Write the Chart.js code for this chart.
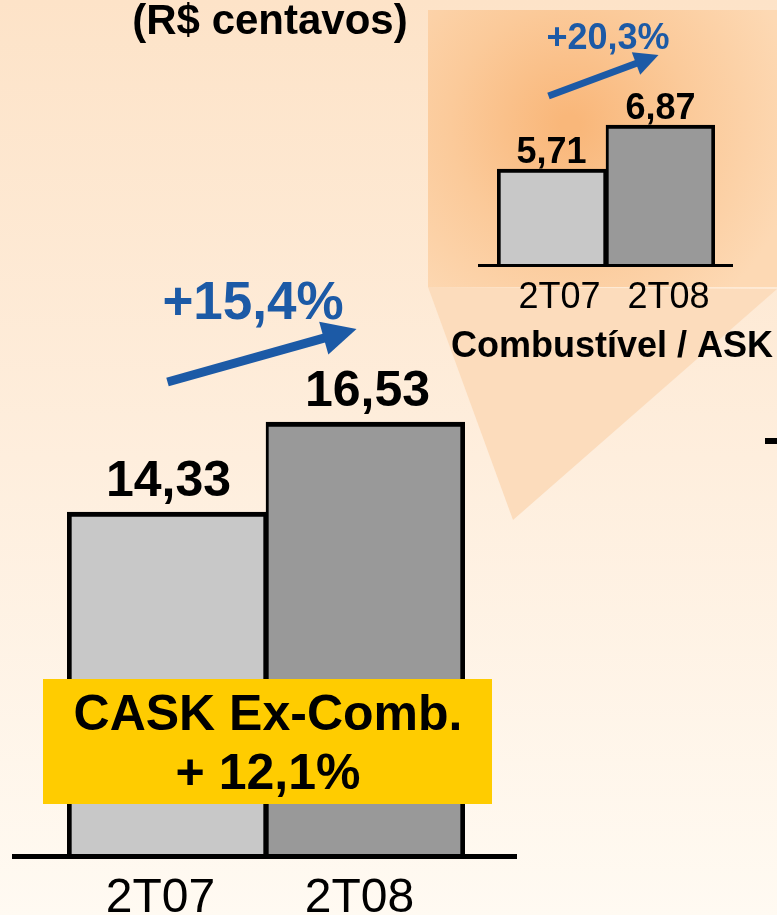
<!DOCTYPE html>
<html>
<head>
<meta charset="utf-8">
<title>CASK</title>
<script src="https://cdn.jsdelivr.net/npm/chart.js@4.4.0/dist/chart.umd.min.js"></script>
<style>
  body { margin: 0; width: 777px; height: 915px; overflow: hidden; background: #fef3e6; }
  canvas { position: absolute; left: 0; top: 0; }
</style>
</head>
<body>
<canvas id="caskChart" width="777" height="915"></canvas>
<canvas id="combChart" width="777" height="915"></canvas>
<script>
// Daten
const periodos = ['2T07', '2T08'];
const caskWerte = [14.33, 16.53];
const combWerte = [5.71, 6.87];
const titel = '(R$ centavos)';
const caskVariacao = '+15,4%';
const combVariacao = '+20,3%';
const combTitel = 'Combustível / ASK';
const boxTexte = ['CASK Ex-Comb.', '+ 12,1%'];

const barFarben = ['#c8c8c8', '#999999'];
const FONT = "'Liberation Sans', Arial, sans-serif";
const BLAU = '#1c5aa6';

function zahl(v) {
  return v.toFixed(2).replace('.', ',');
}

// Pfeil zeichnen
function pfeil(ctx, x1, y1, x2, y2, breite, kopf) {
  const ang = Math.atan2(y2 - y1, x2 - x1);
  const bx = x2 - kopf * Math.cos(ang);
  const by = y2 - kopf * Math.sin(ang);
  const hw = kopf * 0.5;
  ctx.save();
  ctx.strokeStyle = BLAU;
  ctx.fillStyle = BLAU;
  ctx.lineWidth = breite;
  ctx.beginPath();
  ctx.moveTo(x1, y1);
  ctx.lineTo(bx + Math.cos(ang) * 2, by + Math.sin(ang) * 2);
  ctx.stroke();
  ctx.beginPath();
  ctx.moveTo(x2, y2);
  ctx.lineTo(bx + hw * Math.sin(ang), by - hw * Math.cos(ang));
  ctx.lineTo(bx - hw * Math.sin(ang), by + hw * Math.cos(ang));
  ctx.closePath();
  ctx.fill();
  ctx.restore();
}

function text(ctx, t, x, y, font, farbe) {
  ctx.font = font;
  ctx.fillStyle = farbe || '#000';
  ctx.textAlign = 'center';
  ctx.textBaseline = 'alphabetic';
  ctx.fillText(t, x, y);
}

// Hintergrund
const hintergrund = {
  id: 'hintergrund',
  beforeDraw(chart) {
    const ctx = chart.ctx;
    ctx.save();
    const g = ctx.createLinearGradient(0, 0, 0, 915);
    g.addColorStop(0, '#fde3c8');
    g.addColorStop(0.5, '#feeedd');
    g.addColorStop(1, '#fffaf2');
    ctx.fillStyle = g;
    ctx.fillRect(0, 0, 777, 915);

    // Dreieck zum Inset
    ctx.fillStyle = '#fcdcbc';
    ctx.beginPath();
    ctx.moveTo(428, 287);
    ctx.lineTo(777, 289);
    ctx.lineTo(513, 520);
    ctx.closePath();
    ctx.fill();

    // Inset-Rechteck mit Glow
    const r = ctx.createRadialGradient(570, 125, 10, 570, 125, 230);
    r.addColorStop(0, '#f9b77a');
    r.addColorStop(0.5, '#fbca9a');
    r.addColorStop(1, '#fdd9b4');
    ctx.fillStyle = r;
    ctx.fillRect(428, 10, 349, 277);

    // kleiner Strich rechts
    ctx.fillStyle = '#000';
    ctx.fillRect(765, 438, 12, 6);
    ctx.restore();
  }
};

// Beschriftungen Hauptchart
const caskDeko = {
  id: 'caskDeko',
  afterDatasetsDraw(chart) {
    const ctx = chart.ctx;
    const area = chart.chartArea;
    const xs = chart.scales.x;
    const bars = chart.getDatasetMeta(0).data;
    ctx.save();

    // Grundlinie
    ctx.fillStyle = '#000';
    ctx.fillRect(area.left - 55, area.bottom - 3, area.right - area.left + 107, 5);

    // Werte
    bars.forEach((b, i) => {
      text(ctx, zahl(caskWerte[i]), b.x + 2, b.y - 16, 'bold 50px ' + FONT);
    });

    // Kategorien
    periodos.forEach((p, i) => {
      text(ctx, p, xs.getPixelForValue(i) - 6, 912, '48px ' + FONT);
    });

    // Pfeil + Variation
    const b0 = bars[0], b1 = bars[1];
    pfeil(ctx, b0.x + 1, b1.y - 40, b1.x - 9, b1.y - 93, 9, 34);
    text(ctx, caskVariacao, (b0.x + b1.x) / 2 - 13, b1.y - 103, 'bold 53px ' + FONT, BLAU);

    // Titel
    text(ctx, titel, 270, 34, 'bold 42px ' + FONT);

    // gelbe Box
    ctx.fillStyle = '#ffcc00';
    ctx.fillRect(43, 679, 449, 125);
    text(ctx, boxTexte[0], 268, 730, 'bold 50px ' + FONT);
    text(ctx, boxTexte[1], 268, 789, 'bold 50px ' + FONT);

    ctx.restore();
  }
};

// Beschriftungen Inset
const combDeko = {
  id: 'combDeko',
  afterDatasetsDraw(chart) {
    const ctx = chart.ctx;
    const area = chart.chartArea;
    const xs = chart.scales.x;
    const bars = chart.getDatasetMeta(0).data;
    ctx.save();

    ctx.fillStyle = '#000';
    ctx.fillRect(area.left - 19, area.bottom - 2, area.right - area.left + 37, 3);

    bars.forEach((b, i) => {
      text(ctx, zahl(combWerte[i]), b.x, b.y - 6, 'bold 36px ' + FONT);
    });

    periodos.forEach((p, i) => {
      text(ctx, p, xs.getPixelForValue(i) + 8, 308, '36px ' + FONT);
    });

    const b0 = bars[0], b1 = bars[1];
    pfeil(ctx, b0.x - 3, b1.y - 29, b1.x - 2, b1.y - 70, 7, 24);
    text(ctx, combVariacao, 608, b1.y - 76, 'bold 36px ' + FONT, BLAU);

    text(ctx, combTitel, 612, 357, 'bold 36px ' + FONT);
    ctx.restore();
  }
};

// Hauptchart CASK
const caskConfig = {
  type: 'bar',
  data: {
    labels: periodos,
    datasets: [{
      data: caskWerte,
      backgroundColor: barFarben,
      borderColor: '#000',
      borderWidth: (c) => c.dataIndex === 0
        ? { top: 5, left: 5, right: 3, bottom: 0 }
        : { top: 5, left: 3, right: 5, bottom: 0 },
      borderSkipped: false,
      barPercentage: 1,
      categoryPercentage: 1
    }]
  },
  options: {
    responsive: false,
    animation: false,
    devicePixelRatio: 1,
    layout: { padding: { left: 67, right: 312, top: 280, bottom: 58 } },
    plugins: { legend: { display: false }, tooltip: { enabled: false } },
    scales: {
      x: { display: false },
      y: { display: false, min: 5.9, max: 20 }
    }
  },
  plugins: [hintergrund, caskDeko]
};

// Inset Combustivel / ASK
const combConfig = {
  type: 'bar',
  data: {
    labels: periodos,
    datasets: [{
      data: combWerte,
      backgroundColor: barFarben,
      borderColor: '#000',
      borderWidth: (c) => c.dataIndex === 0
        ? { top: 4, left: 4, right: 3, bottom: 0 }
        : { top: 4, left: 3, right: 4, bottom: 0 },
      borderSkipped: false,
      barPercentage: 1,
      categoryPercentage: 1
    }]
  },
  options: {
    responsive: false,
    animation: false,
    devicePixelRatio: 1,
    layout: { padding: { left: 497, right: 62, top: 44, bottom: 649 } },
    plugins: { legend: { display: false }, tooltip: { enabled: false } },
    scales: {
      x: { display: false },
      y: { display: false, min: 3.15, max: 9.01 }
    }
  },
  plugins: [combDeko]
};

const caskChart = new Chart(document.querySelector('#caskChart'), caskConfig);
const combChart = new Chart(document.querySelector('#combChart'), combConfig);
</script>
</body>
</html>
